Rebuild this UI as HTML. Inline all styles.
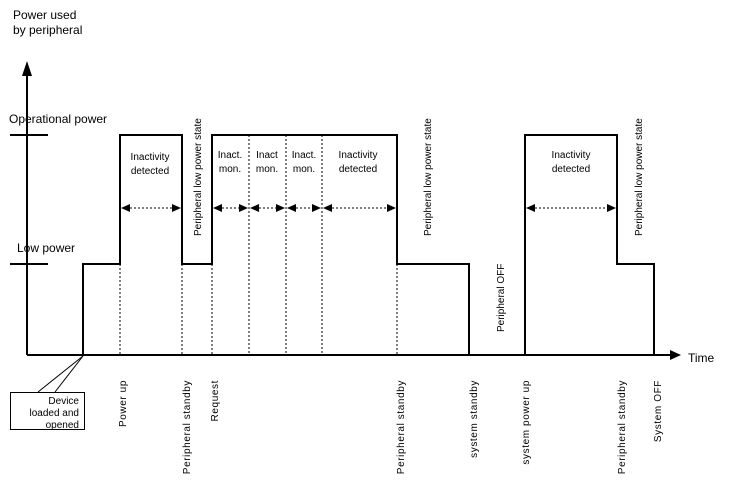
<!DOCTYPE html>
<html><head><style>
html,body{margin:0;padding:0;background:#fff;}
svg{display:block;}
text{font-family:"Liberation Sans",sans-serif;fill:#000;}
</style></head><body>
<svg width="731" height="484" viewBox="0 0 731 484" xmlns="http://www.w3.org/2000/svg">
<text x="13" y="19" font-size="12">Power used</text>
<text x="13" y="34" font-size="12">by peripheral</text>
<text x="9" y="123" font-size="12">Operational power</text>
<text x="17" y="252" font-size="12">Low power</text>
<text x="688" y="362" font-size="12">Time</text>
<line x1="27" y1="74" x2="27" y2="355" stroke="#000" stroke-width="2"/>
<path d="M22,76 L27,61 L32,76 z" fill="#000"/>
<line x1="27" y1="355" x2="672" y2="355" stroke="#000" stroke-width="2"/>
<path d="M670,350 L681,355 L670,360 z" fill="#000"/>
<line x1="10" y1="135" x2="48" y2="135" stroke="#000" stroke-width="2"/>
<line x1="10" y1="264" x2="48" y2="264" stroke="#000" stroke-width="2"/>
<polyline fill="none" stroke="#000" stroke-width="2" points="83,355 83,264 120,264 120,135 182,135 182,264 212,264 212,135 397,135 397,264 469,264 469,355"/>
<polyline fill="none" stroke="#000" stroke-width="2" points="525,355 525,135 617,135 617,264 654,264 654,355"/>
<g stroke="#000" stroke-width="1" stroke-dasharray="2,2">
<line x1="120" y1="264" x2="120" y2="355"/>
<line x1="182" y1="264" x2="182" y2="355"/>
<line x1="212" y1="264" x2="212" y2="355"/>
<line x1="249" y1="135" x2="249" y2="355"/>
<line x1="286" y1="135" x2="286" y2="355"/>
<line x1="322" y1="135" x2="322" y2="355"/>
<line x1="397" y1="264" x2="397" y2="355"/>
</g>
<g stroke="#000" stroke-width="1" stroke-dasharray="2,2">
<line x1="122" y1="208" x2="180" y2="208"/>
<line x1="214" y1="208" x2="247" y2="208"/>
<line x1="251" y1="208" x2="284" y2="208"/>
<line x1="288" y1="208" x2="320" y2="208"/>
<line x1="324" y1="208" x2="395" y2="208"/>
<line x1="527" y1="208" x2="615" y2="208"/>
</g>
<g fill="#000">
<path d="M121,208 L130,204 L130,212 z"/><path d="M181,208 L172,204 L172,212 z"/>
<path d="M213,208 L222,204 L222,212 z"/><path d="M248,208 L239,204 L239,212 z"/>
<path d="M250,208 L259,204 L259,212 z"/><path d="M285,208 L276,204 L276,212 z"/>
<path d="M287,208 L296,204 L296,212 z"/><path d="M321,208 L312,204 L312,212 z"/>
<path d="M323,208 L332,204 L332,212 z"/><path d="M396,208 L387,204 L387,212 z"/>
<path d="M526,208 L535,204 L535,212 z"/><path d="M616,208 L607,204 L607,212 z"/>
</g>
<g font-size="10" text-anchor="middle">
<text x="150" y="160">Inactivity</text><text x="150" y="174">detected</text>
<text x="230" y="158">Inact.</text><text x="230" y="172">mon.</text>
<text x="267" y="158">Inact</text><text x="267" y="172">mon.</text>
<text x="304" y="158">Inact.</text><text x="304" y="172">mon.</text>
<text x="358" y="158">Inactivity</text><text x="358" y="172">detected</text>
<text x="571" y="158">Inactivity</text><text x="571" y="172">detected</text>
</g>
<g font-size="10">
<text transform="translate(201,236) rotate(-90)">Peripheral low power state</text>
<text transform="translate(431,236) rotate(-90)">Peripheral low power state</text>
<text transform="translate(642,236) rotate(-90)">Peripheral low power state</text>
<text transform="translate(504,332) rotate(-90)">Peripheral OFF</text>
</g>
<g font-size="10" text-anchor="end" letter-spacing="0.6">
<text transform="translate(126,380) rotate(-90)">Power up</text>
<text transform="translate(190,380) rotate(-90)">Peripheral standby</text>
<text transform="translate(218,380) rotate(-90)">Request</text>
<text transform="translate(404,380) rotate(-90)">Peripheral standby</text>
<text transform="translate(477,380) rotate(-90)">system standby</text>
<text transform="translate(529,380) rotate(-90)">system power up</text>
<text transform="translate(625,380) rotate(-90)">Peripheral standby</text>
<text transform="translate(661,380) rotate(-90)">System OFF</text>
</g>
<line x1="83" y1="356" x2="38" y2="392" stroke="#000" stroke-width="1"/>
<line x1="83" y1="356" x2="55" y2="392" stroke="#000" stroke-width="1"/>
<rect x="10.5" y="392.5" width="74" height="37" fill="#fff" stroke="#000" stroke-width="1"/>
<g font-size="10" text-anchor="end">
<text x="79" y="404">Device</text>
<text x="79" y="416">loaded and</text>
<text x="79" y="428">opened</text>
</g>
</svg>
</body></html>
